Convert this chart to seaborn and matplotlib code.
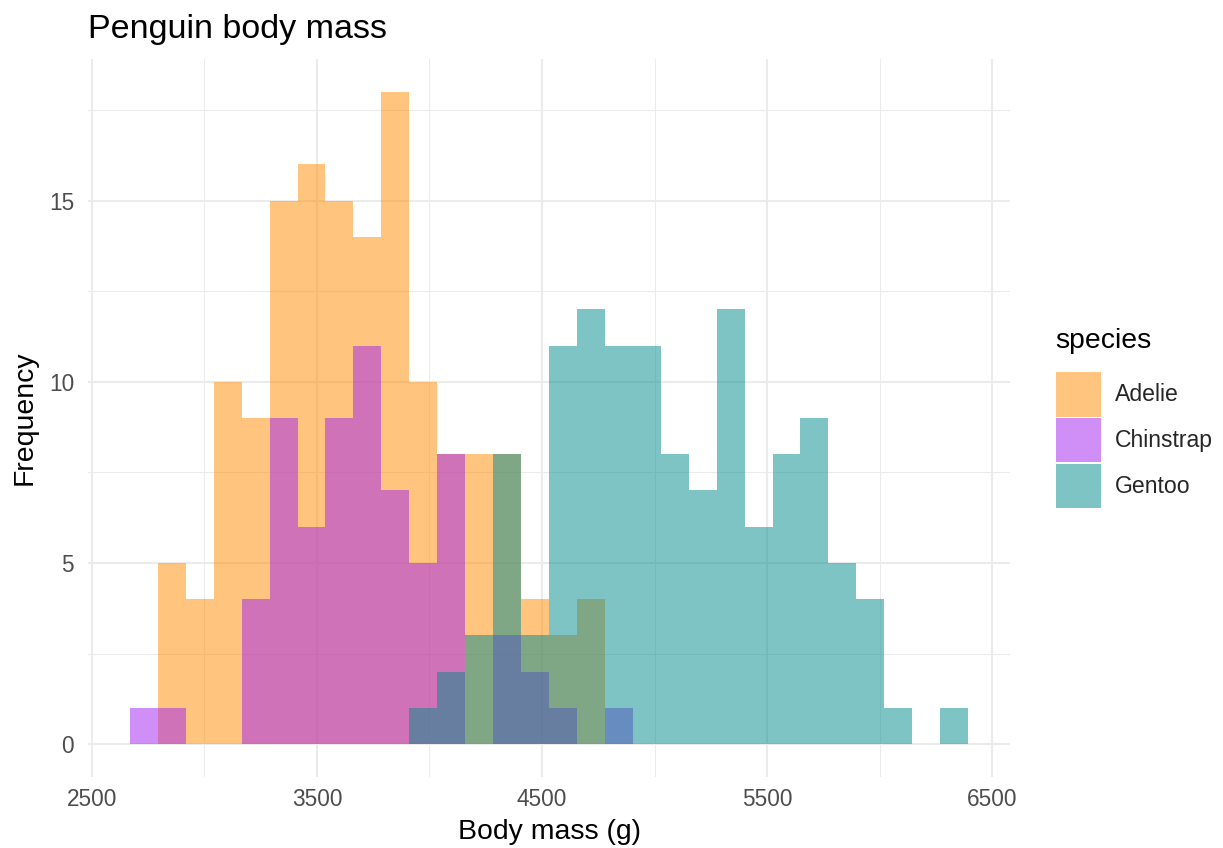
import numpy as np
import pandas as pd
import matplotlib
matplotlib.use('Agg')
import matplotlib.pyplot as plt
from matplotlib.patches import Patch
import seaborn as sns

# counts per bin (30 bins)
species = ['Adelie', 'Chinstrap', 'Gentoo']
adelie = [0, 5, 4, 10, 9, 15, 16, 15, 14, 18, 10, 8, 8, 8, 4, 3, 4, 0, 0, 0,
          0, 0, 0, 0, 0, 0, 0, 0, 0, 0]
chinstrap = [1, 1, 0, 0, 4, 9, 6, 9, 11, 7, 5, 8, 0, 3, 2, 1, 0, 1, 0, 0,
             0, 0, 0, 0, 0, 0, 0, 0, 0, 0]
gentoo = [0, 0, 0, 0, 0, 0, 0, 0, 0, 0, 1, 2, 3, 8, 3, 11, 12, 11, 11, 8,
          7, 12, 6, 8, 9, 5, 4, 1, 0, 1]
colors = {'Adelie': '#FF8C00', 'Chinstrap': '#A020F0', 'Gentoo': '#008B8B'}

# bins like ggplot's bins=30 over 2700..6300
bin_width = 3600 / 29
bin_start = 2668.97
edges = [float(e) for e in bin_start + bin_width * np.arange(31)]
centers = [(a + b) / 2 for a, b in zip(edges[:-1], edges[1:])]

rows = []
for sp, cnt in zip(species, [adelie, chinstrap, gentoo]):
    for m, c in zip(centers, cnt):
        rows.append({'species': sp, 'mass': m, 'count': c})
df = pd.DataFrame(rows)

sns.set_theme(style='white')
plt.rcParams['font.family'] = ['Liberation Sans', 'DejaVu Sans']

fig = plt.figure(figsize=(12.23, 8.48), dpi=100)
ax = fig.add_axes([88 / 1223, 1 - 776.7 / 848, (1010 - 88) / 1223, (776.7 - 59.3) / 848])

# draw in ggplot's group order so later species sit on top
for sp in species:
    sub = df[df['species'] == sp]
    sns.histplot(data=sub, x='mass', weights='count', bins=edges,
                 color=colors[sp], alpha=0.5, linewidth=0, ax=ax)

rng = edges[-1] - edges[0]
ax.set_xlim(edges[0] - 0.05 * rng, edges[-1] + 0.05 * rng)
ax.set_ylim(-0.9, 18.9)
ax.set_xticks([2500, 3500, 4500, 5500, 6500])
ax.set_xticks([3000, 4000, 5000, 6000], minor=True)
ax.set_yticks([0, 5, 10, 15])
ax.set_yticks([2.5, 7.5, 12.5, 17.5], minor=True)
ax.set_axisbelow(True)
ax.grid(which='major', color='#EBEBEB', linewidth=1.5)
ax.grid(which='minor', color='#EBEBEB', linewidth=0.75)
for s in ax.spines.values():
    s.set_visible(False)
ax.tick_params(which='both', length=0, labelsize=16.3, labelcolor='#4D4D4D')
ax.tick_params(axis='x', pad=8)
ax.tick_params(axis='y', pad=10)

ax.set_xlabel('Body mass (g)', fontsize=20.4, color='black', labelpad=6)
ax.set_ylabel('Frequency', fontsize=20.4, color='black', labelpad=8)

fig.text(88 / 1223, 1 - 38 / 848, 'Penguin body mass', fontsize=24.5,
         ha='left', va='baseline', color='black')

# legend: title as separate text, keys below
fig.text(1055 / 1223, 1 - 348 / 848, 'species', fontsize=20.4,
         ha='left', va='baseline', color='black')
handles = [Patch(facecolor=colors[sp], alpha=0.5, linewidth=0) for sp in species]
leg = fig.legend(handles, species, loc='upper left',
                 bbox_to_anchor=(1056 / 1223, 1 - 372 / 848),
                 frameon=False, fontsize=16.6,
                 handlelength=1.94, handleheight=2.6, labelspacing=0.05,
                 handletextpad=0.6, borderpad=0, borderaxespad=0)

fig.savefig('out.png', dpi=100)
